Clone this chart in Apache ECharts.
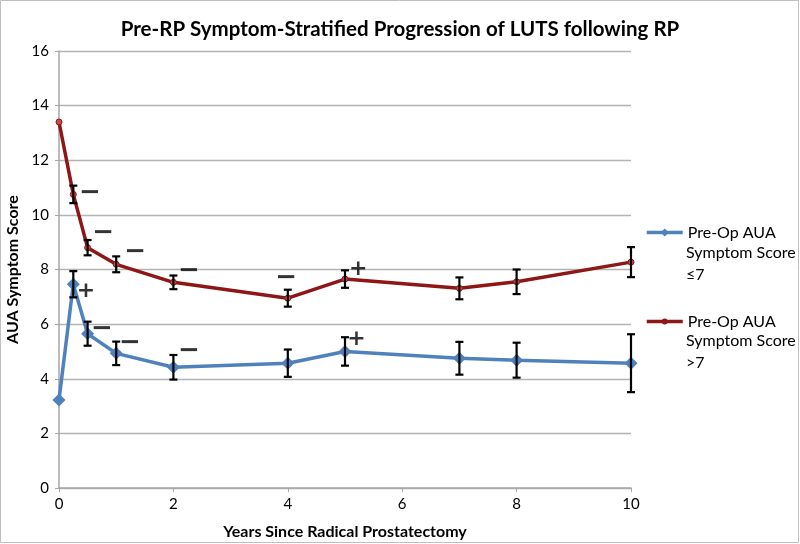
<!DOCTYPE html>
<html><head><meta charset="utf-8">
<script src="https://cdn.jsdelivr.net/npm/echarts@6/dist/echarts.min.js"></script>
<style>html,body{margin:0;padding:0;background:#fff}#c{width:800px;height:544px}</style>
</head><body><div id="c"></div>
<script>
var years = [0, 0.25, 0.5, 1, 2, 4, 5, 7, 8, 10];
var lowName = 'Pre-Op AUA\nSymptom Score\n≤7';
var highName = 'Pre-Op AUA\nSymptom Score\n>7';
var lowMean = [3.22, 7.46, 5.65, 4.93, 4.42, 4.57, 5.0, 4.75, 4.68, 4.57];
var lowErr  = [0, 0.48, 0.44, 0.43, 0.45, 0.5, 0.52, 0.6, 0.64, 1.06];
var highMean = [13.4, 10.75, 8.8, 8.19, 7.53, 6.95, 7.65, 7.31, 7.55, 8.27];
var highErr  = [0, 0.32, 0.28, 0.29, 0.25, 0.31, 0.32, 0.4, 0.45, 0.55];
var yTicks = [0, 2, 4, 6, 8, 10, 12, 14, 16];
var xTicks = [0, 2, 4, 6, 8, 10];
// significance markers: [x, y, symbol]
var highMarks = [[0.54, 10.8, '−'], [0.77, 9.32, '−'], [1.33, 8.62, '−'], [2.27, 7.92, '−'], [3.97, 7.67, '−'], [5.23, 8.02, '+']];
var lowMarks  = [[0.47, 7.2, '+'], [0.75, 5.82, '−'], [1.24, 5.29, '−'], [2.27, 5.02, '−'], [5.2, 5.45, '+']];

function pairs(xs, ys){ return xs.map(function(x,i){ return [x, ys[i]]; }); }
function errData(xs, m, e){ var out=[]; xs.forEach(function(x,i){ if(e[i]>0) out.push([x, m[i]-e[i], m[i]+e[i]]); }); return out; }
function errRender(params, api){
  var x = api.value(0), lo = api.value(1), hi = api.value(2);
  var pLo = api.coord([x, lo]), pHi = api.coord([x, hi]);
  var w = 4;
  var st = {stroke:'#000', lineWidth:2.2, fill:null};
  return {type:'group', children:[
    {type:'line', shape:{x1:pLo[0], y1:pLo[1], x2:pHi[0], y2:pHi[1]}, style:st},
    {type:'line', shape:{x1:pLo[0]-w, y1:pLo[1], x2:pLo[0]+w, y2:pLo[1]}, style:st},
    {type:'line', shape:{x1:pHi[0]-w, y1:pHi[1], x2:pHi[0]+w, y2:pHi[1]}, style:st}
  ]};
}
function markSeries(marks){
  return {type:'scatter', data:marks.map(function(m){
      var minus = m[2] === '−';
      return {value:[m[0], m[1]], label:{formatter:m[2],
        fontFamily:'DejaVu Sans', fontWeight:'bold', fontSize: minus ? 26 : 22}};
    }),
    symbolSize:0, silent:true, z:10,
    label:{show:true, position:'inside', color:'#000'}};
}
var ff = 'Lato, "Open Sans", sans-serif';
var red = '#8e1616';
var blue = '#4f81bd';
var chart = echarts.init(document.getElementById('c'));
function extraLines(name, yTop){
  var lines = name.split('\n').slice(1);
  return lines.map(function(t, i){
    return {type:'text', left:686, top:yTop + i*22, silent:true,
      style:{text:t, fontFamily:ff, fontSize:16, fill:'#000'}};
  });
}
chart.setOption({
  animation:false,
  backgroundColor:'#fff',
  title:{text:'Pre-RP Symptom-Stratified Progression of LUTS following RP', left:'center', top:14,
    textStyle:{fontFamily:ff, fontWeight:'bold', fontSize:20.5, color:'#000'}},
  grid:{left:59, right:169, top:51, bottom:56, containLabel:false, outerBoundsMode:'none'},
  legend:{orient:'vertical', left:640, top:217, itemGap:68, itemWidth:36, itemHeight:10,
    data:[{name:lowName, lineStyle:{width:3.5, color:blue}},
          {name:highName, icon:'path://M0,3.3 L36,3.3 L36,6.7 L0,6.7 Z M15,5 A3,3 0 1,1 21,5 A3,3 0 1,1 15,5 Z M0,0 L0.01,0 M0,10 L0.01,10',
           itemStyle:{color:red, borderWidth:0}}],
    formatter:function(n){ return n.split('\n')[0]; },
    textStyle:{fontFamily:ff, fontSize:16, color:'#000', lineHeight:21}},
  xAxis:{type:'value', min:0, max:10, interval:2,
    name:'Years Since Radical Prostatectomy', nameLocation:'middle', nameGap:36,
    nameTextStyle:{fontFamily:ff, fontWeight:'bold', fontSize:16, color:'#000'},
    axisLine:{lineStyle:{color:'#a6a6a6', width:1.5}}, axisTick:{show:true, length:4, lineStyle:{color:'#a6a6a6'}},
    axisLabel:{fontFamily:ff, fontSize:15, color:'#000', margin:9, formatter:function(v){return xTicks.indexOf(v)>=0? String(v):'';}},
    splitLine:{show:false}},
  yAxis:{type:'value', min:0, max:16, interval:2,
    name:'AUA Symptom Score', nameLocation:'middle', nameGap:36, nameRotate:90,
    nameTextStyle:{fontFamily:ff, fontWeight:'bold', fontSize:16, color:'#000'},
    axisLine:{show:true, lineStyle:{color:'#a6a6a6', width:1.5}}, axisTick:{show:true, length:4, lineStyle:{color:'#a6a6a6'}},
    axisLabel:{fontFamily:ff, fontSize:15, color:'#000', margin:10, formatter:function(v){return yTicks.indexOf(v)>=0? String(v):'';}},
    splitLine:{show:true, lineStyle:{color:'#b3b3b3', width:1.3}}},
  graphic:[{type:'rect', shape:{x:0.5, y:0.5, width:798, height:542}, style:{fill:null, stroke:'#bfbfbf', lineWidth:1}, silent:true}]
    .concat(extraLines(lowName, 245)).concat(extraLines(highName, 333)),
  series:[
    {name:lowName, type:'line', data:pairs(years, lowMean), symbol:'diamond', symbolSize:13,
      lineStyle:{color:blue, width:3.5}, itemStyle:{color:blue}, z:3},
    {name:highName, type:'line', data:pairs(years, highMean), symbol:'circle', symbolSize:6,
      lineStyle:{color:red, width:3.5}, itemStyle:{color:'#c0504d', borderColor:red, borderWidth:1}, z:3},
    {type:'custom', renderItem:errRender, data:errData(years, lowMean, lowErr), z:5, silent:true},
    {type:'custom', renderItem:errRender, data:errData(years, highMean, highErr), z:5, silent:true},
    markSeries(highMarks),
    markSeries(lowMarks)
  ]
});
</script></body></html>
